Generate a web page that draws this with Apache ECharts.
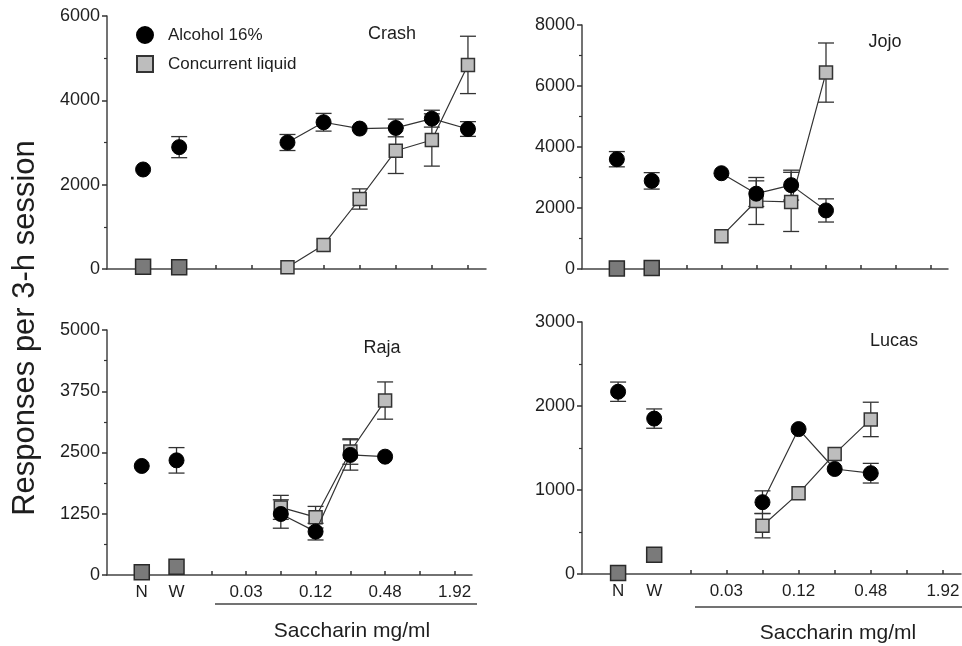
<!DOCTYPE html>
<html>
<head>
<meta charset="utf-8">
<script src="https://cdn.jsdelivr.net/npm/echarts@6/dist/echarts.min.js"></script>
<style>
  html, body { margin: 0; padding: 0; background: #fff; }
  #chart { width: 962px; height: 646px; }
</style>
</head>
<body>
<div id="chart"></div>
<script>
// x slots: N, W, then saccharin concentrations on a doubling scale
const slotOf = { N: 1, W: 2, "0.015": 3, "0.03": 4, "0.06": 5, "0.12": 6, "0.24": 7, "0.48": 8, "0.96": 9, "1.92": 10 };
const baseLabels = ["N", "W"];
const xTickLabels = ["N", "W", "0.03", "0.12", "0.48", "1.92"];
const saccharinTicks = ["0.015", "0.03", "0.06", "0.12", "0.24", "0.48", "0.96", "1.92"];

// Crash
const crashConc = ["0.06", "0.12", "0.24", "0.48", "0.96", "1.92"];
const crashAlcBase = [2360, 2890];
const crashAlcBaseErr = [null, 250];
const crashLiqBase = [55, 40];
const crashAlc = [3000, 3480, 3330, 3345, 3565, 3320];
const crashAlcErr = [190, 210, null, 210, 200, 175];
const crashLiq = [40, 570, 1660, 2805, 3060, 4840];
const crashLiqErr = [null, null, 240, 540, 620, 680];

// Jojo
const jojoConc = ["0.03", "0.06", "0.12", "0.24"];
const jojoAlcBase = [3600, 2890];
const jojoAlcBaseErr = [250, 270];
const jojoLiqBase = [20, 30];
const jojoAlc = [3140, 2470, 2750, 1920];
const jojoAlcErr = [null, 420, 490, 380];
const jojoLiq = [1070, 2230, 2200, 6440];
const jojoLiqErr = [null, 770, 970, 970];

// Raja
const rajaConc = ["0.06", "0.12", "0.24", "0.48"];
const rajaAlcBase = [2225, 2340];
const rajaAlcBaseErr = [null, 260];
const rajaLiqBase = [55, 170];
const rajaAlc = [1245, 885, 2450, 2415];
const rajaAlcErr = [290, 170, 310, null];
const rajaLiq = [1380, 1180, 2520, 3560];
const rajaLiqErr = [245, 220, 260, 380];

// Lucas
const lucasConc = ["0.06", "0.12", "0.24", "0.48"];
const lucasAlcBase = [2170, 1850];
const lucasAlcBaseErr = [115, 115];
const lucasLiqBase = [12, 230];
const lucasAlc = [855, 1725, 1250, 1200];
const lucasAlcErr = [135, null, null, 117];
const lucasLiq = [575, 960, 1430, 1840];
const lucasLiqErr = [145, null, null, 205];

const yMax = [6000, 8000, 5000, 3000];
const yStep = [2000, 2000, 1250, 1000];
const panelNames = ["Crash", "Jojo", "Raja", "Lucas"];

const panels = [
  { conc: crashConc, alcBase: crashAlcBase, alcBaseErr: crashAlcBaseErr, liqBase: crashLiqBase, alc: crashAlc, alcErr: crashAlcErr, liq: crashLiq, liqErr: crashLiqErr },
  { conc: jojoConc, alcBase: jojoAlcBase, alcBaseErr: jojoAlcBaseErr, liqBase: jojoLiqBase, alc: jojoAlc, alcErr: jojoAlcErr, liq: jojoLiq, liqErr: jojoLiqErr },
  { conc: rajaConc, alcBase: rajaAlcBase, alcBaseErr: rajaAlcBaseErr, liqBase: rajaLiqBase, alc: rajaAlc, alcErr: rajaAlcErr, liq: rajaLiq, liqErr: rajaLiqErr },
  { conc: lucasConc, alcBase: lucasAlcBase, alcBaseErr: lucasAlcBaseErr, liqBase: lucasLiqBase, alc: lucasAlc, alcErr: lucasAlcErr, liq: lucasLiq, liqErr: lucasLiqErr },
];

const FONT = '"Liberation Sans", Arial, Helvetica, sans-serif';
const INK = "#1e1e1e";

const grids = [
  { left: 107, top: 16, width: 379, height: 253 },
  { left: 582, top: 25, width: 366, height: 244 },
  { left: 107, top: 330, width: 365, height: 245 },
  { left: 582, top: 322, width: 379, height: 252 },
];

const chart = echarts.init(document.getElementById("chart"), null, { renderer: "canvas" });

function renderErr(params, api) {
  const x = api.value(0);
  const y = api.value(1);
  const e = api.value(2);
  const top = api.coord([x, y + e]);
  const bot = api.coord([x, y - e]);
  const w = 8;
  const style = { stroke: "#333", lineWidth: 1.3 };
  return {
    type: "group",
    children: [
      { type: "line", shape: { x1: top[0], y1: top[1], x2: bot[0], y2: bot[1] }, style },
      { type: "line", shape: { x1: top[0] - w, y1: top[1], x2: top[0] + w, y2: top[1] }, style },
      { type: "line", shape: { x1: bot[0] - w, y1: bot[1], x2: bot[0] + w, y2: bot[1] }, style },
    ],
  };
}

const alcStyle = { color: "#000", borderColor: "#000", borderWidth: 1, opacity: 1 };
const liqStyle = { color: "#bdbdbd", borderColor: "#333", borderWidth: 1.5, opacity: 1 };
const liqBaseStyle = { color: "#7a7a7a", borderColor: "#2a2a2a", borderWidth: 1.5, opacity: 1 };

const xAxes = [];
const yAxes = [];
const series = [];

panels.forEach((p, i) => {
  const bottomRow = i >= 2;
  xAxes.push({
    type: "value",
    gridIndex: i,
    min: 0,
    max: 10.5,
    splitLine: { show: false },
    axisLine: { lineStyle: { color: "#444", width: 1.5 } },
    axisTick: {
      inside: true,
      length: 4,
      lineStyle: { color: "#333", width: 1.5 },
      customValues: saccharinTicks.map((c) => slotOf[c]),
    },
    axisLabel: {
      show: bottomRow,
      margin: 9,
      fontFamily: FONT,
      fontSize: 17,
      color: INK,
      customValues: xTickLabels.map((l) => slotOf[l]),
      formatter: (v) => xTickLabels.find((l) => slotOf[l] === v) || "",
    },
  });
  yAxes.push({
    type: "value",
    gridIndex: i,
    min: 0,
    max: yMax[i],
    interval: yStep[i],
    splitLine: { show: false },
    axisLine: { show: true, lineStyle: { color: "#444", width: 1.5 } },
    axisTick: { length: 5, lineStyle: { color: "#333", width: 1.5 } },
    minorTick: { show: true, splitNumber: 2, length: 3, lineStyle: { color: "#333", width: 1.2 } },
    axisLabel: { margin: 7, fontFamily: FONT, fontSize: 18, color: INK, formatter: (v) => String(v) },
  });

  const alcBaseData = baseLabels.map((l, k) => [slotOf[l], p.alcBase[k]]);
  const liqBaseData = baseLabels.map((l, k) => [slotOf[l], p.liqBase[k]]);
  const alcData = p.conc.map((c, k) => [slotOf[c], p.alc[k]]);
  const liqData = p.conc.map((c, k) => [slotOf[c], p.liq[k]]);

  const errData = [];
  baseLabels.forEach((l, k) => {
    if (p.alcBaseErr[k] != null) errData.push([slotOf[l], p.alcBase[k], p.alcBaseErr[k]]);
  });
  p.conc.forEach((c, k) => {
    if (p.alcErr[k] != null) errData.push([slotOf[c], p.alc[k], p.alcErr[k]]);
    if (p.liqErr[k] != null) errData.push([slotOf[c], p.liq[k], p.liqErr[k]]);
  });

  series.push(
    {
      type: "custom",
      name: "err" + i,
      xAxisIndex: i,
      yAxisIndex: i,
      renderItem: renderErr,
      encode: { x: 0, y: 1 },
      data: errData,
      z: 1,
      silent: true,
    },
    {
      type: "line",
      name: "Concurrent liquid",
      xAxisIndex: i,
      yAxisIndex: i,
      data: liqData,
      symbol: "rect",
      symbolSize: 13,
      itemStyle: liqStyle,
      lineStyle: { color: "#333", width: 1.2 },
      z: 2,
    },
    {
      type: "scatter",
      name: "liqBase" + i,
      xAxisIndex: i,
      yAxisIndex: i,
      data: liqBaseData,
      symbol: "rect",
      symbolSize: 15,
      itemStyle: liqBaseStyle,
      z: 2,
    },
    {
      type: "line",
      name: "Alcohol 16%",
      xAxisIndex: i,
      yAxisIndex: i,
      data: alcData,
      symbol: "circle",
      symbolSize: 15,
      itemStyle: alcStyle,
      lineStyle: { color: "#333", width: 1.2 },
      z: 3,
    },
    {
      type: "scatter",
      name: "alcBase" + i,
      xAxisIndex: i,
      yAxisIndex: i,
      data: alcBaseData,
      symbol: "circle",
      symbolSize: 15,
      itemStyle: alcStyle,
      z: 3,
    }
  );
});

const titleText = (text, x, y) => ({
  type: "text",
  x,
  y,
  style: { text, font: "18px " + FONT, fill: INK, textAlign: "center", textVerticalAlign: "middle" },
});

const option = {
  animation: false,
  backgroundColor: "#fff",
  grid: grids.map((g) => Object.assign({ outerBoundsMode: "none", containLabel: false }, g)),
  xAxis: xAxes,
  yAxis: yAxes,
  legend: {
    left: 131,
    top: 21,
    orient: "vertical",
    itemWidth: 16,
    itemHeight: 16,
    itemGap: 11,
    selectedMode: false,
    textStyle: { fontFamily: FONT, fontSize: 17, color: INK, padding: [0, 0, 0, 10] },
    data: [
      { name: "Alcohol 16%", icon: "circle" },
      { name: "Concurrent liquid", icon: "rect" },
    ],
  },
  series,
  graphic: [
    titleText(panelNames[0], 392, 34),
    titleText(panelNames[1], 885, 42),
    titleText(panelNames[2], 382, 348),
    titleText(panelNames[3], 894, 341),
    { type: "line", shape: { x1: 215, y1: 604, x2: 477, y2: 604 }, style: { stroke: "#444", lineWidth: 1.5 } },
    { type: "line", shape: { x1: 695, y1: 607, x2: 962, y2: 607 }, style: { stroke: "#444", lineWidth: 1.5 } },
    {
      type: "text", x: 352, y: 631,
      style: { text: "Saccharin mg/ml", font: "21px " + FONT, fill: INK, textAlign: "center", textVerticalAlign: "middle" },
    },
    {
      type: "text", x: 838, y: 633,
      style: { text: "Saccharin mg/ml", font: "21px " + FONT, fill: INK, textAlign: "center", textVerticalAlign: "middle" },
    },
    {
      type: "text", x: 25, y: 328, rotation: Math.PI / 2,
      style: { text: "Responses per 3-h session", font: "31px " + FONT, fill: INK, textAlign: "center", textVerticalAlign: "middle" },
    },
  ],
};

chart.setOption(option);
</script>
</body>
</html>
